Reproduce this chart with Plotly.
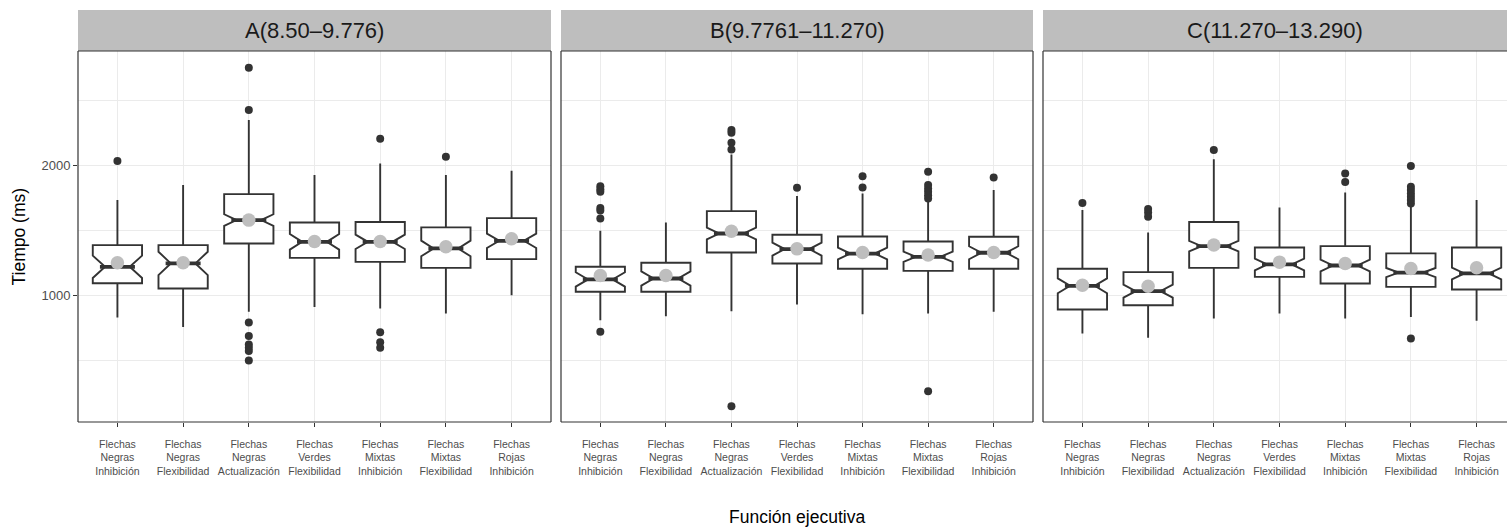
import plotly.graph_objects as go

# ---------------- data ----------------
categories = [
    "Flechas<br>Negras<br>Inhibición",
    "Flechas<br>Negras<br>Flexibilidad",
    "Flechas<br>Negras<br>Actualización",
    "Flechas<br>Verdes<br>Flexibilidad",
    "Flechas<br>Mixtas<br>Inhibición",
    "Flechas<br>Mixtas<br>Flexibilidad",
    "Flechas<br>Rojas<br>Inhibición",
]
panel_titles = ["A(8.50–9.776)", "B(9.7761–11.270)", "C(11.270–13.290)"]

# Panel A
q1_A = [1092, 1051, 1397, 1287, 1256, 1210, 1277]
med_A = [1218, 1244, 1577, 1410, 1410, 1359, 1418]
q3_A = [1385, 1385, 1777, 1559, 1562, 1521, 1592]
lo_A = [828, 756, 872, 910, 897, 859, 1000]
hi_A = [1731, 1846, 2346, 1923, 2013, 1923, 1956]
notch_A = [86, 90, 45, 60, 55, 60, 55]
mean_A = [1249, 1249, 1577, 1413, 1413, 1372, 1433]
out_A = [[2031], [], [2748, 2423, 790, 687, 621, 595, 570, 498], [],
         [2202, 715, 638, 595], [2064], []]

# Panel B
q1_B = [1026, 1026, 1328, 1244, 1203, 1187, 1203]
med_B = [1121, 1128, 1474, 1354, 1320, 1295, 1326]
q3_B = [1218, 1249, 1646, 1464, 1451, 1413, 1449]
lo_B = [808, 838, 877, 928, 854, 859, 872]
hi_B = [1495, 1559, 2082, 1762, 1782, 1731, 1808]
notch_B = [55, 55, 45, 50, 45, 40, 50]
mean_B = [1151, 1151, 1492, 1356, 1328, 1308, 1328]
out_B = [[1838, 1815, 1795, 1670, 1650, 1590, 718], [],
         [2269, 2249, 2172, 2120, 146], [1826], [1915, 1828],
         [1949, 1846, 1820, 1795, 1769, 1744, 262], [1905]]

# Panel C
q1_C = [890, 923, 1210, 1141, 1090, 1064, 1044]
med_C = [1072, 1031, 1377, 1236, 1228, 1174, 1167]
q3_C = [1203, 1177, 1562, 1367, 1377, 1321, 1367]
lo_C = [705, 672, 821, 859, 821, 833, 803]
hi_C = [1654, 1482, 2044, 1674, 1790, 1692, 1731]
notch_C = [57, 50, 40, 45, 45, 35, 45]
mean_C = [1077, 1069, 1385, 1254, 1244, 1205, 1210]
out_C = [[1708], [1662, 1636, 1603], [2115], [], [1936, 1869],
         [1992, 1833, 1808, 1782, 1756, 1731, 1705, 667], []]

y_ticks = [1000, 2000]

panels = [
    (q1_A, med_A, q3_A, lo_A, hi_A, notch_A, mean_A, out_A),
    (q1_B, med_B, q3_B, lo_B, hi_B, notch_B, mean_B, out_B),
    (q1_C, med_C, q3_C, lo_C, hi_C, notch_C, mean_C, out_C),
]

# ---------------- styling / layout ----------------
FONT = "Liberation Sans, Arial, Helvetica, sans-serif"
DARK = "#333333"
GRID = "#EBEBEB"
W, H = 1507, 527
ML, MR, MT, MB = 78, 0, 51, 105
PW = W - ML - MR
PH = H - MT - MB
domains = [
    [0.0, (551 - ML) / PW],
    [(561 - ML) / PW, (1033 - ML) / PW],
    [(1043 - ML) / PW, 1.0],
]
unit_px = 473 / 7.2
ranges = [
    [-0.6, 6.6],
    [-0.6, 6.6],
    [-0.6, -0.6 + (W - 1043) / unit_px],
]
strip_h = 41 / PH

fig = go.Figure()
layout = dict(
    width=W, height=H,
    margin=dict(l=ML, r=MR, t=MT, b=MB, pad=0),
    paper_bgcolor="white", plot_bgcolor="white",
    showlegend=False,
    font=dict(family=FONT, color="#4D4D4D"),
)
shapes = []
annotations = []

for i, (q1, med, q3, lo, hi, nt, mn, outs) in enumerate(panels):
    n = "" if i == 0 else str(i + 1)
    xa, ya = "x" + n, "y" + n
    fig.add_trace(go.Box(
        x=categories, q1=q1, median=med, q3=q3,
        lowerfence=lo, upperfence=hi, notchspan=nt,
        notched=True, notchwidth=0.25, width=0.75, whiskerwidth=0,
        boxpoints=False, fillcolor="white",
        line=dict(color=DARK, width=1.9),
        xaxis=xa, yaxis=ya, hoverinfo="skip",
    ))
    # thicker median segment (ggplot fatten)
    fig.add_trace(go.Scatter(
        x=categories, y=med, mode="markers",
        marker=dict(symbol="line-ew", size=25,
                    line=dict(color=DARK, width=3.8)),
        xaxis=xa, yaxis=ya, hoverinfo="skip",
    ))
    ox, oy = [], []
    for c, vals in zip(categories, outs):
        for v in vals:
            ox.append(c)
            oy.append(v)
    fig.add_trace(go.Scatter(
        x=ox, y=oy, mode="markers",
        marker=dict(color=DARK, size=8, line=dict(width=0)),
        xaxis=xa, yaxis=ya, hoverinfo="skip",
    ))
    fig.add_trace(go.Scatter(
        x=categories, y=mn, mode="markers",
        marker=dict(color="#BEBEBE", size=13.5, line=dict(width=0)),
        xaxis=xa, yaxis=ya, hoverinfo="skip",
    ))

    layout["xaxis" + n] = dict(
        domain=domains[i], anchor=ya, type="category",
        categoryorder="array", categoryarray=categories,
        range=ranges[i], showgrid=True, gridcolor=GRID, gridwidth=1.3,
        zeroline=False, showline=False,
        ticks="outside", ticklen=4, tickwidth=1.1, tickcolor=DARK,
        ticklabelstandoff=8,
        tickfont=dict(family=FONT, size=10.5, color="#4D4D4D"),
        tickangle=0, fixedrange=True,
    )
    yax = dict(
        domain=[0, 1], anchor=xa, range=[25, 2877],
        tickvals=y_ticks, showgrid=True, gridcolor=GRID, gridwidth=1.3,
        minor=dict(dtick=500, tick0=0, showgrid=True, gridcolor=GRID,
                   gridwidth=0.7, ticks=""),
        zeroline=False, showline=False, fixedrange=True,
    )
    if i == 0:
        yax.update(ticks="outside", ticklen=4, tickwidth=1.1, tickcolor=DARK,
                   tickfont=dict(family=FONT, size=13, color="#4D4D4D"),
                   showticklabels=True)
    else:
        yax.update(matches="y", ticks="", showticklabels=False)
    layout["yaxis" + n] = yax

    xd, yd = xa + " domain", ya + " domain"
    # strip
    shapes.append(dict(type="rect", xref=xd, yref=yd, x0=0, x1=1,
                       y0=1, y1=1 + strip_h, fillcolor="#BEBEBE",
                       line=dict(width=0), layer="below"))
    annotations.append(dict(text=panel_titles[i], xref=xd, yref=yd,
                            x=0.5, y=1 + strip_h / 2, showarrow=False,
                            xanchor="center", yanchor="middle",
                            font=dict(family=FONT, size=22, color="#1A1A1A")))
    # panel border
    border = dict(color=DARK, width=1.2)
    shapes.append(dict(type="line", xref=xd, yref=yd, x0=0, x1=0, y0=0, y1=1, line=border))
    shapes.append(dict(type="line", xref=xd, yref=yd, x0=0, x1=1, y0=0, y1=0, line=border))
    shapes.append(dict(type="line", xref=xd, yref=yd, x0=0, x1=1, y0=1, y1=1, line=border))
    if i < 2:
        shapes.append(dict(type="line", xref=xd, yref=yd, x0=1, x1=1, y0=0, y1=1, line=border))

# axis titles
annotations.append(dict(text="Tiempo (ms)", xref="paper", yref="paper",
                        x=0, y=0.5, xshift=-60, textangle=-90, showarrow=False,
                        xanchor="center", yanchor="middle",
                        font=dict(family=FONT, size=17.5, color="black")))
annotations.append(dict(text="Función ejecutiva", xref="paper", yref="paper",
                        x=(797 - ML) / PW, y=0, yshift=-95, showarrow=False,
                        xanchor="center", yanchor="middle",
                        font=dict(family=FONT, size=17.5, color="black")))

layout["shapes"] = shapes
layout["annotations"] = annotations
fig.update_layout(**layout)
fig.write_html("out.html", config={"displayModeBar": False},
               post_script="document.body.style.margin='0px';document.body.style.overflow='hidden';")
